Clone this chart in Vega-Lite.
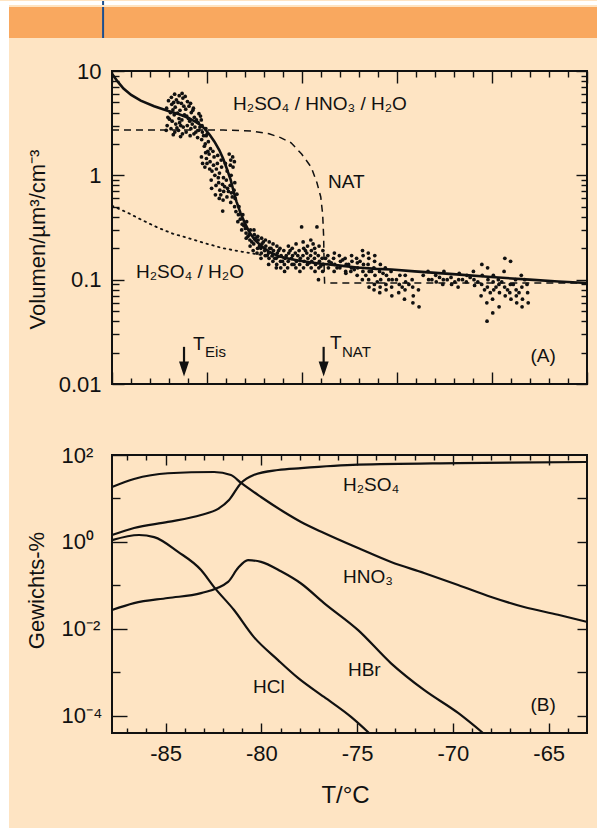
{
  "$schema": "https://vega.github.io/schema/vega-lite/v6.json",
  "background": "#FEE4C3",
  "padding": 0,
  "spacing": 0,
  "config": {
    "font": "Liberation Sans",
    "view": {"stroke": null},
    "axis": {"grid": false, "domain": false, "tickColor": "#111", "tickWidth": 1.4, "labelFont": "Liberation Sans", "titleFont": "Liberation Sans", "labelColor": "#111", "titleColor": "#111", "labelFontSize": 22, "titleFontSize": 22, "titleFontWeight": "normal", "labelFlush": false, "labelOverlap": false}
  },
  "datasets": {
    "hdr": [{"p": 0.16}],
    "solid": [
      {"T": -87.8, "v": 9.4}, {"T": -87.5, "v": 7.9}, {"T": -87.2, "v": 6.8}, {"T": -86.8, "v": 5.9}, {"T": -86.3, "v": 5.2}, {"T": -85.6, "v": 4.6}, {"T": -84.9, "v": 4.15}, {"T": -84.3, "v": 3.85}, {"T": -83.8, "v": 3.55}, {"T": -83.3, "v": 3.15}, {"T": -83.0, "v": 2.85}, {"T": -82.7, "v": 2.45}, {"T": -82.45, "v": 2.1}, {"T": -82.2, "v": 1.75}, {"T": -82.0, "v": 1.45}, {"T": -81.8, "v": 1.15}, {"T": -81.6, "v": 0.9}, {"T": -81.45, "v": 0.7}, {"T": -81.3, "v": 0.56}, {"T": -81.1, "v": 0.44}, {"T": -80.9, "v": 0.36}, {"T": -80.65, "v": 0.29}, {"T": -80.35, "v": 0.24}, {"T": -80.0, "v": 0.21}, {"T": -79.6, "v": 0.185}, {"T": -79.1, "v": 0.168}, {"T": -78.5, "v": 0.158}, {"T": -78.0, "v": 0.152}, {"T": -77.0, "v": 0.143}, {"T": -76.0, "v": 0.137}, {"T": -75.0, "v": 0.131}, {"T": -74.0, "v": 0.127}, {"T": -73.2, "v": 0.125}, {"T": -72.0, "v": 0.12}, {"T": -70.0, "v": 0.113}, {"T": -68.0, "v": 0.106}, {"T": -66.0, "v": 0.1}, {"T": -64.5, "v": 0.096}, {"T": -63.0, "v": 0.093}
    ],
    "nat": [
      {"T": -87.8, "v": 2.72}, {"T": -82.0, "v": 2.72}, {"T": -80.5, "v": 2.66}, {"T": -79.6, "v": 2.5}, {"T": -79.0, "v": 2.3}, {"T": -78.45, "v": 2.05}, {"T": -77.9, "v": 1.6}, {"T": -77.4, "v": 1.2}, {"T": -77.1, "v": 0.85}, {"T": -76.9, "v": 0.62}, {"T": -76.8, "v": 0.42}, {"T": -76.75, "v": 0.26}, {"T": -76.72, "v": 0.12}, {"T": -76.7, "v": 0.093}, {"T": -63.0, "v": 0.093}
    ],
    "dot": [
      {"T": -87.8, "v": 0.51}, {"T": -87.0, "v": 0.44}, {"T": -86.2, "v": 0.37}, {"T": -85.4, "v": 0.315}, {"T": -84.6, "v": 0.275}, {"T": -83.8, "v": 0.25}, {"T": -83.0, "v": 0.225}, {"T": -82.0, "v": 0.2}, {"T": -81.0, "v": 0.185}, {"T": -80.0, "v": 0.172}, {"T": -79.0, "v": 0.163}, {"T": -78.3, "v": 0.157}
    ],
    "pts": [
      {"T": -84.92, "v": 3.0}, {"T": -84.88, "v": 3.6}, {"T": -84.95, "v": 4.4}, {"T": -84.85, "v": 5.2},
      {"T": -84.72, "v": 2.8}, {"T": -84.66, "v": 3.3}, {"T": -84.75, "v": 4.0}, {"T": -84.68, "v": 4.8}, {"T": -84.7, "v": 5.6},
      {"T": -84.52, "v": 2.6}, {"T": -84.47, "v": 3.1}, {"T": -84.55, "v": 3.8}, {"T": -84.5, "v": 4.5}, {"T": -84.44, "v": 5.3}, {"T": -84.53, "v": 6.0},
      {"T": -84.33, "v": 2.7}, {"T": -84.27, "v": 3.2}, {"T": -84.3, "v": 3.5}, {"T": -84.25, "v": 4.2}, {"T": -84.35, "v": 5.0}, {"T": -84.29, "v": 5.8},
      {"T": -84.12, "v": 2.5}, {"T": -84.08, "v": 2.9}, {"T": -84.15, "v": 3.4}, {"T": -84.05, "v": 4.6}, {"T": -84.1, "v": 5.5}, {"T": -84.14, "v": 6.1},
      {"T": -83.93, "v": 2.6}, {"T": -83.87, "v": 3.0}, {"T": -83.9, "v": 3.7}, {"T": -83.95, "v": 4.3}, {"T": -83.86, "v": 5.1},
      {"T": -83.72, "v": 2.4}, {"T": -83.68, "v": 2.8}, {"T": -83.74, "v": 3.3}, {"T": -83.66, "v": 4.0}, {"T": -83.7, "v": 4.9},
      {"T": -83.52, "v": 2.5}, {"T": -83.47, "v": 2.9}, {"T": -83.5, "v": 3.6}, {"T": -83.55, "v": 4.4},
      {"T": -83.33, "v": 2.3}, {"T": -83.28, "v": 2.7}, {"T": -83.3, "v": 3.2}, {"T": -83.26, "v": 3.9},
      {"T": -83.12, "v": 2.2}, {"T": -83.08, "v": 2.6}, {"T": -83.1, "v": 3.0}, {"T": -83.14, "v": 3.4}, {"T": -83.07, "v": 1.3}, {"T": -83.13, "v": 1.5},
      {"T": -82.93, "v": 2.0}, {"T": -82.88, "v": 2.4}, {"T": -82.9, "v": 2.8}, {"T": -82.95, "v": 1.2}, {"T": -82.87, "v": 1.45}, {"T": -82.91, "v": 1.65},
      {"T": -82.8, "v": 1.7}, {"T": -82.77, "v": 2.1}, {"T": -82.83, "v": 2.5},
      {"T": -82.7, "v": 1.15}, {"T": -82.68, "v": 1.35}, {"T": -82.73, "v": 1.6}, {"T": -82.66, "v": 1.8},
      {"T": -82.6, "v": 0.75}, {"T": -82.62, "v": 0.9},
      {"T": -82.5, "v": 1.25}, {"T": -82.47, "v": 1.5}, {"T": -82.53, "v": 1.7},
      {"T": -82.4, "v": 0.65}, {"T": -82.37, "v": 0.8}, {"T": -82.43, "v": 1.0},
      {"T": -82.3, "v": 1.3}, {"T": -82.28, "v": 1.55},
      {"T": -82.2, "v": 0.6}, {"T": -82.17, "v": 0.72}, {"T": -82.23, "v": 0.85}, {"T": -82.19, "v": 1.05},
      {"T": -82.1, "v": 1.4}, {"T": -82.08, "v": 1.2},
      {"T": -82.0, "v": 0.58}, {"T": -81.97, "v": 0.7}, {"T": -82.03, "v": 0.82}, {"T": -81.98, "v": 0.95}, {"T": -82.02, "v": 0.455},
      {"T": -81.8, "v": 0.62}, {"T": -81.77, "v": 0.75}, {"T": -81.83, "v": 0.9}, {"T": -81.79, "v": 1.1},
      {"T": -81.6, "v": 0.55}, {"T": -81.57, "v": 0.68}, {"T": -81.63, "v": 0.8}, {"T": -81.58, "v": 1.0}, {"T": -81.62, "v": 1.25}, {"T": -81.6, "v": 1.4},
      {"T": -81.5, "v": 1.5}, {"T": -81.48, "v": 1.2},
      {"T": -81.4, "v": 0.5}, {"T": -81.37, "v": 0.6}, {"T": -81.43, "v": 0.72}, {"T": -81.39, "v": 0.85}, {"T": -81.41, "v": 1.35},
      {"T": -81.2, "v": 0.42}, {"T": -81.17, "v": 0.5}, {"T": -81.23, "v": 0.36},
      {"T": -81.0, "v": 0.34}, {"T": -80.97, "v": 0.42}, {"T": -81.03, "v": 0.3},
      {"T": -80.8, "v": 0.28}, {"T": -80.77, "v": 0.36}, {"T": -80.83, "v": 0.31}, {"T": -80.79, "v": 0.25},
      {"T": -80.6, "v": 0.24}, {"T": -80.57, "v": 0.3}, {"T": -80.63, "v": 0.27}, {"T": -80.59, "v": 0.21},
      {"T": -80.4, "v": 0.22}, {"T": -80.37, "v": 0.27}, {"T": -80.43, "v": 0.19}, {"T": -80.39, "v": 0.3},
      {"T": -80.2, "v": 0.2}, {"T": -80.17, "v": 0.24}, {"T": -80.23, "v": 0.18}, {"T": -80.19, "v": 0.26},
      {"T": -80.0, "v": 0.18}, {"T": -79.97, "v": 0.22}, {"T": -80.03, "v": 0.2}, {"T": -79.99, "v": 0.25}, {"T": -80.02, "v": 0.16},
      {"T": -79.8, "v": 0.17}, {"T": -79.77, "v": 0.21}, {"T": -79.83, "v": 0.19}, {"T": -79.79, "v": 0.24},
      {"T": -79.6, "v": 0.16}, {"T": -79.57, "v": 0.2}, {"T": -79.63, "v": 0.18}, {"T": -79.59, "v": 0.23}, {"T": -79.62, "v": 0.14},
      {"T": -79.4, "v": 0.15}, {"T": -79.37, "v": 0.19}, {"T": -79.43, "v": 0.17}, {"T": -79.39, "v": 0.22},
      {"T": -79.2, "v": 0.14}, {"T": -79.17, "v": 0.18}, {"T": -79.23, "v": 0.16}, {"T": -79.19, "v": 0.21}, {"T": -79.22, "v": 0.13},
      {"T": -79.0, "v": 0.15}, {"T": -78.97, "v": 0.17}, {"T": -79.03, "v": 0.2}, {"T": -78.99, "v": 0.13},
      {"T": -78.8, "v": 0.14}, {"T": -78.77, "v": 0.16}, {"T": -78.83, "v": 0.19}, {"T": -78.79, "v": 0.12},
      {"T": -78.6, "v": 0.15}, {"T": -78.57, "v": 0.18}, {"T": -78.63, "v": 0.13}, {"T": -78.59, "v": 0.21},
      {"T": -78.4, "v": 0.14}, {"T": -78.37, "v": 0.17}, {"T": -78.43, "v": 0.16}, {"T": -78.39, "v": 0.2},
      {"T": -78.2, "v": 0.13}, {"T": -78.17, "v": 0.15}, {"T": -78.23, "v": 0.18}, {"T": -78.19, "v": 0.22},
      {"T": -78.0, "v": 0.14}, {"T": -77.97, "v": 0.16}, {"T": -78.03, "v": 0.19}, {"T": -77.99, "v": 0.12},
      {"T": -77.9, "v": 0.32},
      {"T": -77.8, "v": 0.13}, {"T": -77.77, "v": 0.15}, {"T": -77.83, "v": 0.17}, {"T": -77.79, "v": 0.2}, {"T": -77.82, "v": 0.23},
      {"T": -77.6, "v": 0.14}, {"T": -77.57, "v": 0.16}, {"T": -77.63, "v": 0.18}, {"T": -77.59, "v": 0.21},
      {"T": -77.4, "v": 0.13}, {"T": -77.37, "v": 0.15}, {"T": -77.43, "v": 0.17}, {"T": -77.39, "v": 0.19}, {"T": -77.42, "v": 0.24},
      {"T": -77.2, "v": 0.12}, {"T": -77.17, "v": 0.14}, {"T": -77.23, "v": 0.16}, {"T": -77.19, "v": 0.18}, {"T": -77.22, "v": 0.2},
      {"T": -77.1, "v": 0.32},
      {"T": -77.0, "v": 0.13}, {"T": -76.97, "v": 0.15}, {"T": -77.03, "v": 0.17}, {"T": -76.99, "v": 0.21}, {"T": -77.02, "v": 0.1},
      {"T": -76.8, "v": 0.12}, {"T": -76.77, "v": 0.14}, {"T": -76.83, "v": 0.16}, {"T": -76.79, "v": 0.19},
      {"T": -76.5, "v": 0.13}, {"T": -76.47, "v": 0.15}, {"T": -76.53, "v": 0.17},
      {"T": -76.2, "v": 0.12}, {"T": -76.17, "v": 0.14}, {"T": -76.23, "v": 0.16}, {"T": -76.19, "v": 0.18},
      {"T": -75.9, "v": 0.13}, {"T": -75.87, "v": 0.15}, {"T": -75.93, "v": 0.17},
      {"T": -75.6, "v": 0.12}, {"T": -75.57, "v": 0.14}, {"T": -75.63, "v": 0.16}, {"T": -75.59, "v": 0.115},
      {"T": -75.3, "v": 0.13}, {"T": -75.27, "v": 0.15}, {"T": -75.33, "v": 0.12}, {"T": -75.29, "v": 0.17},
      {"T": -75.0, "v": 0.11}, {"T": -74.97, "v": 0.13}, {"T": -75.03, "v": 0.16}, {"T": -74.99, "v": 0.145},
      {"T": -74.7, "v": 0.12}, {"T": -74.67, "v": 0.14}, {"T": -74.73, "v": 0.1}, {"T": -74.69, "v": 0.17}, {"T": -74.72, "v": 0.19},
      {"T": -74.4, "v": 0.1}, {"T": -74.37, "v": 0.12}, {"T": -74.43, "v": 0.14}, {"T": -74.39, "v": 0.16}, {"T": -74.42, "v": 0.18}, {"T": -74.38, "v": 0.085},
      {"T": -74.1, "v": 0.09}, {"T": -74.07, "v": 0.11}, {"T": -74.13, "v": 0.13}, {"T": -74.09, "v": 0.15}, {"T": -74.12, "v": 0.08}, {"T": -74.08, "v": 0.17},
      {"T": -73.8, "v": 0.085}, {"T": -73.77, "v": 0.1}, {"T": -73.83, "v": 0.12}, {"T": -73.79, "v": 0.14}, {"T": -73.82, "v": 0.075},
      {"T": -73.5, "v": 0.09}, {"T": -73.47, "v": 0.11}, {"T": -73.53, "v": 0.13}, {"T": -73.49, "v": 0.08},
      {"T": -73.2, "v": 0.085}, {"T": -73.17, "v": 0.1}, {"T": -73.23, "v": 0.12}, {"T": -73.19, "v": 0.07},
      {"T": -72.8, "v": 0.09}, {"T": -72.77, "v": 0.11}, {"T": -72.83, "v": 0.075},
      {"T": -72.5, "v": 0.08}, {"T": -72.47, "v": 0.095}, {"T": -72.53, "v": 0.065}, {"T": -72.49, "v": 0.11},
      {"T": -72.1, "v": 0.085}, {"T": -72.07, "v": 0.07}, {"T": -72.13, "v": 0.1}, {"T": -72.09, "v": 0.06},
      {"T": -71.8, "v": 0.08}, {"T": -71.77, "v": 0.055},
      {"T": -71.3, "v": 0.12}, {"T": -71.27, "v": 0.1},
      {"T": -70.9, "v": 0.11}, {"T": -70.87, "v": 0.095},
      {"T": -70.5, "v": 0.1}, {"T": -70.47, "v": 0.12}, {"T": -70.53, "v": 0.09},
      {"T": -70.1, "v": 0.105}, {"T": -70.07, "v": 0.09},
      {"T": -69.7, "v": 0.1}, {"T": -69.67, "v": 0.115}, {"T": -69.73, "v": 0.085},
      {"T": -69.3, "v": 0.095}, {"T": -69.27, "v": 0.11},
      {"T": -68.9, "v": 0.1}, {"T": -68.87, "v": 0.088}, {"T": -68.93, "v": 0.12},
      {"T": -68.5, "v": 0.09}, {"T": -68.47, "v": 0.11}, {"T": -68.53, "v": 0.07}, {"T": -68.49, "v": 0.14},
      {"T": -68.2, "v": 0.085}, {"T": -68.17, "v": 0.1}, {"T": -68.23, "v": 0.06}, {"T": -68.19, "v": 0.13}, {"T": -68.22, "v": 0.04},
      {"T": -67.9, "v": 0.095}, {"T": -67.87, "v": 0.08}, {"T": -67.93, "v": 0.065}, {"T": -67.89, "v": 0.11}, {"T": -67.92, "v": 0.048},
      {"T": -67.6, "v": 0.09}, {"T": -67.57, "v": 0.075}, {"T": -67.63, "v": 0.1}, {"T": -67.59, "v": 0.055},
      {"T": -67.3, "v": 0.085}, {"T": -67.27, "v": 0.07}, {"T": -67.33, "v": 0.12}, {"T": -67.29, "v": 0.16},
      {"T": -67.0, "v": 0.09}, {"T": -66.97, "v": 0.065}, {"T": -67.03, "v": 0.075}, {"T": -66.99, "v": 0.15},
      {"T": -66.7, "v": 0.08}, {"T": -66.67, "v": 0.06}, {"T": -66.73, "v": 0.1}, {"T": -66.69, "v": 0.07},
      {"T": -66.4, "v": 0.085}, {"T": -66.37, "v": 0.065}, {"T": -66.43, "v": 0.11}, {"T": -66.39, "v": 0.055},
      {"T": -66.1, "v": 0.075}, {"T": -66.07, "v": 0.06}, {"T": -66.13, "v": 0.09},
      {"T": -84.8, "v": 3.45}, {"T": -84.62, "v": 4.25}, {"T": -84.58, "v": 5.0}, {"T": -84.41, "v": 2.85}, {"T": -84.38, "v": 3.95}, {"T": -84.21, "v": 3.0}, {"T": -84.18, "v": 4.9}, {"T": -84.02, "v": 3.8}, {"T": -83.98, "v": 5.7}, {"T": -83.81, "v": 3.5}, {"T": -83.78, "v": 4.6}, {"T": -83.61, "v": 3.1}, {"T": -83.58, "v": 4.2}, {"T": -83.42, "v": 2.6}, {"T": -83.39, "v": 3.4}, {"T": -83.21, "v": 2.9}, {"T": -83.18, "v": 3.7}, {"T": -83.02, "v": 2.4}, {"T": -82.98, "v": 1.9}, {"T": -84.97, "v": 2.7}, {"T": -84.6, "v": 2.45}, {"T": -84.22, "v": 2.35},
      {"T": -82.84, "v": 1.3}, {"T": -82.58, "v": 1.1}, {"T": -82.35, "v": 1.15}, {"T": -82.25, "v": 0.95}, {"T": -82.12, "v": 0.65}, {"T": -81.92, "v": 0.78}, {"T": -81.88, "v": 1.3}, {"T": -81.72, "v": 0.7}, {"T": -81.68, "v": 1.6}, {"T": -81.52, "v": 0.62}, {"T": -81.33, "v": 0.45}, {"T": -81.28, "v": 0.66}, {"T": -81.1, "v": 0.38}, {"T": -80.92, "v": 0.33}, {"T": -80.7, "v": 0.26}, {"T": -80.5, "v": 0.23}, {"T": -80.3, "v": 0.25}, {"T": -80.1, "v": 0.21}, {"T": -79.9, "v": 0.23}, {"T": -79.7, "v": 0.17}, {"T": -79.5, "v": 0.2}, {"T": -79.3, "v": 0.16}, {"T": -79.1, "v": 0.19}, {"T": -78.9, "v": 0.15}, {"T": -78.7, "v": 0.17}, {"T": -78.5, "v": 0.19}, {"T": -78.3, "v": 0.14}, {"T": -78.1, "v": 0.17}, {"T": -77.7, "v": 0.19}, {"T": -77.5, "v": 0.145}, {"T": -77.3, "v": 0.22}, {"T": -76.9, "v": 0.135}, {"T": -76.65, "v": 0.16}, {"T": -76.35, "v": 0.145}, {"T": -76.05, "v": 0.13}, {"T": -75.75, "v": 0.155}, {"T": -75.45, "v": 0.14}, {"T": -75.15, "v": 0.125}, {"T": -74.85, "v": 0.15}, {"T": -74.55, "v": 0.11}, {"T": -74.25, "v": 0.12}, {"T": -73.95, "v": 0.095}, {"T": -73.65, "v": 0.115}, {"T": -73.35, "v": 0.1}, {"T": -72.95, "v": 0.1}, {"T": -72.65, "v": 0.085}, {"T": -72.3, "v": 0.09}, {"T": -71.55, "v": 0.11}, {"T": -71.1, "v": 0.1}, {"T": -70.7, "v": 0.105}, {"T": -70.3, "v": 0.1}, {"T": -69.9, "v": 0.095}, {"T": -69.5, "v": 0.1}, {"T": -69.1, "v": 0.105}, {"T": -68.7, "v": 0.095}, {"T": -68.35, "v": 0.08}, {"T": -68.05, "v": 0.075}, {"T": -67.75, "v": 0.085}, {"T": -67.45, "v": 0.095}, {"T": -67.15, "v": 0.08}, {"T": -66.85, "v": 0.09}, {"T": -66.55, "v": 0.075}, {"T": -66.25, "v": 0.1}
    ],
    "txtA": [
      {"T": -81.48, "v": 4.83, "t": "H₂SO₄ / HNO₃ / H₂O"},
      {"T": -76.52, "v": 0.863, "t": "NAT"},
      {"T": -86.55, "v": 0.1185, "t": "H₂SO₄ / H₂O"},
      {"T": -65.95, "v": 0.0185, "t": "(A)"},
      {"T": -83.57, "v": 0.0242, "t": "T"},
      {"T": -76.42, "v": 0.0248, "t": "T"}
    ],
    "subA": [
      {"T": -82.94, "v": 0.0203, "t": "Eis"},
      {"T": -75.79, "v": 0.0203, "t": "NAT"}
    ],
    "arrows": [
      {"T": -84.04, "top": 0.0227, "bot": 0.0159, "head": 0.0139},
      {"T": -76.75, "top": 0.0227, "bot": 0.0159, "head": 0.0139}
    ],
    "h2so4": [
      {"T": -87.8, "w": 1.44}, {"T": -86.65, "w": 2.09}, {"T": -84.88, "w": 2.88}, {"T": -83.15, "w": 4.17}, {"T": -82.26, "w": 5.75}, {"T": -81.69, "w": 9.2}, {"T": -81.06, "w": 22.7}, {"T": -80.4, "w": 34.7}, {"T": -79.13, "w": 45.2}, {"T": -77.93, "w": 50}, {"T": -74.95, "w": 60}, {"T": -69.73, "w": 65}, {"T": -63.0, "w": 69}
    ],
    "hno3": [
      {"T": -87.8, "w": 18.3}, {"T": -86.65, "w": 28.0}, {"T": -84.88, "w": 38.0}, {"T": -82.47, "w": 40.6}, {"T": -81.59, "w": 34.7}, {"T": -81.06, "w": 22.7}, {"T": -80.02, "w": 10.8}, {"T": -78.82, "w": 4.87}, {"T": -77.93, "w": 2.87}, {"T": -76.73, "w": 1.6}, {"T": -74.95, "w": 0.72}, {"T": -73.23, "w": 0.344}, {"T": -71.51, "w": 0.192}, {"T": -69.73, "w": 0.102}, {"T": -68.0, "w": 0.054}, {"T": -66.29, "w": 0.0316}, {"T": -64.51, "w": 0.021}, {"T": -63.0, "w": 0.0144}
    ],
    "hcl": [
      {"T": -87.8, "w": 1.1}, {"T": -86.39, "w": 1.44}, {"T": -85.6, "w": 1.29}, {"T": -84.35, "w": 0.59}, {"T": -83.15, "w": 0.225}, {"T": -82.47, "w": 0.091}, {"T": -81.43, "w": 0.027}, {"T": -80.4, "w": 0.0065}, {"T": -79.13, "w": 0.0019}, {"T": -78.09, "w": 0.00074}, {"T": -76.73, "w": 0.000269}, {"T": -75.32, "w": 0.0000933}, {"T": -74.38, "w": 0.0000398}
    ],
    "hbr": [
      {"T": -87.8, "w": 0.027}, {"T": -86.65, "w": 0.039}, {"T": -84.88, "w": 0.051}, {"T": -83.15, "w": 0.066}, {"T": -81.74, "w": 0.12}, {"T": -81.22, "w": 0.25}, {"T": -80.7, "w": 0.38}, {"T": -80.02, "w": 0.347}, {"T": -78.98, "w": 0.21}, {"T": -77.93, "w": 0.11}, {"T": -76.73, "w": 0.039}, {"T": -74.95, "w": 0.0093}, {"T": -73.23, "w": 0.0016}, {"T": -71.51, "w": 0.00039}, {"T": -69.73, "w": 0.000115}, {"T": -68.43, "w": 0.0000398}
    ],
    "txtB": [
      {"T": -75.74, "w": 20.4, "t": "H₂SO₄"},
      {"T": -75.74, "w": 0.1556, "t": "HNO₃"},
      {"T": -75.48, "w": 0.001125, "t": "HBr"},
      {"T": -80.44, "w": 0.000457, "t": "HCl"},
      {"T": -65.95, "w": 0.000176, "t": "(B)"}
    ]
  },
  "hconcat": [
    {
      "width": 9, "height": 828,
      "data": {"name": "hdr"},
      "mark": {"type": "rule", "opacity": 0},
      "encoding": {"x": {"field": "p", "type": "quantitative", "axis": null}},
      "view": {"fill": "#FFFFFF", "stroke": null}
    },
    {
      "spacing": 20,
      "vconcat": [
        {
          "spacing": 0,
          "vconcat": [
            {
              "width": 588, "height": 4,
              "data": {"name": "hdr"},
              "mark": {"type": "rule", "color": "#1D4F8E", "strokeWidth": 2},
              "encoding": {"x": {"field": "p", "type": "quantitative", "scale": {"domain": [0, 1]}, "axis": null}},
              "view": {"fill": "#FFFFFF", "stroke": null}
            },
            {
              "width": 588, "height": 31,
              "data": {"name": "hdr"},
              "mark": {"type": "rule", "color": "#1D4F8E", "strokeWidth": 2},
              "encoding": {"x": {"field": "p", "type": "quantitative", "scale": {"domain": [0, 1]}, "axis": null}},
              "view": {"fill": "#F9A85F", "stroke": null}
            }
          ]
        },
        {
          "spacing": 0,
          "hconcat": [
            {
              "width": 1, "height": 1,
              "data": {"name": "hdr"},
              "mark": {"type": "rule", "opacity": 0},
              "encoding": {"x": {"field": "p", "type": "quantitative", "axis": null}}
            },
            {
              "spacing": 47,
              "vconcat": [
                {
                  "width": 475, "height": 313,
                  "view": {"stroke": "#111", "strokeWidth": 2},
                  "resolve": {"axis": {"x": "independent", "y": "independent"}},
                  "layer": [
                    {
                      "data": {"name": "solid"},
                      "mark": {"type": "line", "color": "#111", "strokeWidth": 2.6},
                      "encoding": {
                        "x": {"field": "T", "type": "quantitative", "scale": {"domain": [-87.8, -63], "nice": false, "zero": false},
                          "axis": {"orient": "bottom", "values": [-87.8, -82.84, -77.88, -72.92, -67.96, -63.0], "tickSize": -12, "labels": false, "title": null}},
                        "y": {"field": "v", "type": "quantitative", "scale": {"type": "log", "domain": [0.01, 10], "nice": false},
                          "axis": {"orient": "left", "values": [0.01, 0.1, 1, 10], "format": "~g", "tickSize": -12, "labelPadding": 23, "title": "Volumen/µm³/cm⁻³", "titleX": -75, "titleY": 168, "titleAngle": -90, "titleAlign": "center", "titleBaseline": "middle"}}
                      }
                    },
                    {
                      "data": {"name": "nat"},
                      "mark": {"type": "line", "color": "#111", "strokeWidth": 1.5, "strokeDash": [7, 5]},
                      "encoding": {
                        "x": {"field": "T", "type": "quantitative", "scale": {"domain": [-87.8, -63], "nice": false, "zero": false},
                          "axis": {"orient": "bottom", "values": [-86.808, -85.816, -84.824, -83.832, -81.848, -80.856, -79.864, -78.872, -76.888, -75.896, -74.904, -73.912, -71.928, -70.936, -69.944, -68.952, -66.968, -65.976, -64.984, -63.992], "tickSize": -6, "labels": false, "title": null}},
                        "y": {"field": "v", "type": "quantitative", "scale": {"type": "log", "domain": [0.01, 10], "nice": false},
                          "axis": {"orient": "left", "values": [0.02, 0.03, 0.04, 0.05, 0.06, 0.07, 0.08, 0.09, 0.2, 0.3, 0.4, 0.5, 0.6, 0.7, 0.8, 0.9, 2, 3, 4, 5, 6, 7, 8, 9], "tickSize": -7, "labels": false, "title": null}}
                      }
                    },
                    {
                      "data": {"name": "dot"},
                      "mark": {"type": "line", "color": "#111", "strokeWidth": 1.8, "strokeDash": [1.5, 4.5], "strokeCap": "round"},
                      "encoding": {
                        "x": {"field": "T", "type": "quantitative", "scale": {"domain": [-87.8, -63], "nice": false, "zero": false},
                          "axis": {"orient": "top", "values": [-87.8, -82.84, -77.88, -72.92, -67.96, -63.0], "tickSize": -12, "labels": false, "title": null}},
                        "y": {"field": "v", "type": "quantitative", "scale": {"type": "log", "domain": [0.01, 10], "nice": false},
                          "axis": {"orient": "right", "values": [0.01, 0.1, 1, 10], "tickSize": -11, "labels": false, "title": null}}
                      }
                    },
                    {
                      "data": {"name": "pts"},
                      "mark": {"type": "circle", "color": "#111", "size": 14, "opacity": 1},
                      "encoding": {
                        "x": {"field": "T", "type": "quantitative", "scale": {"domain": [-87.8, -63], "nice": false, "zero": false},
                          "axis": {"orient": "top", "values": [-86.808, -85.816, -84.824, -83.832, -81.848, -80.856, -79.864, -78.872, -76.888, -75.896, -74.904, -73.912, -71.928, -70.936, -69.944, -68.952, -66.968, -65.976, -64.984, -63.992], "tickSize": -6, "labels": false, "title": null}},
                        "y": {"field": "v", "type": "quantitative", "scale": {"type": "log", "domain": [0.01, 10], "nice": false},
                          "axis": {"orient": "right", "values": [0.02, 0.03, 0.04, 0.05, 0.06, 0.07, 0.08, 0.09, 0.2, 0.3, 0.4, 0.5, 0.6, 0.7, 0.8, 0.9, 2, 3, 4, 5, 6, 7, 8, 9], "tickSize": -6, "labels": false, "title": null}}
                      }
                    },
                    {
                      "data": {"name": "txtA"},
                      "mark": {"type": "text", "align": "left", "baseline": "middle", "fontSize": 19, "color": "#111", "font": "Liberation Sans"},
                      "encoding": {
                        "x": {"field": "T", "type": "quantitative", "scale": {"domain": [-87.8, -63], "nice": false, "zero": false}, "axis": null},
                        "y": {"field": "v", "type": "quantitative", "scale": {"type": "log", "domain": [0.01, 10], "nice": false},
                          "axis": {"orient": "left", "ticks": false, "labels": false, "title": ".", "titleOpacity": 0, "titleFontSize": 2, "titleX": -101, "titleY": 150, "titleAngle": 0, "titleAlign": "left", "titleBaseline": "middle"}},
                        "text": {"field": "t"}
                      }
                    },
                    {
                      "data": {"name": "subA"},
                      "mark": {"type": "text", "align": "left", "baseline": "middle", "fontSize": 15, "color": "#111", "font": "Liberation Sans"},
                      "encoding": {
                        "x": {"field": "T", "type": "quantitative", "axis": null},
                        "y": {"field": "v", "type": "quantitative", "axis": null},
                        "text": {"field": "t"}
                      }
                    },
                    {
                      "data": {"name": "arrows"},
                      "mark": {"type": "rule", "color": "#111", "strokeWidth": 2.2},
                      "encoding": {
                        "x": {"field": "T", "type": "quantitative", "axis": null},
                        "y": {"field": "top", "type": "quantitative", "axis": null},
                        "y2": {"field": "bot"}
                      }
                    },
                    {
                      "data": {"name": "arrows"},
                      "mark": {"type": "point", "shape": "M-1,-1.5L1,-1.5L0,1.5Z", "filled": true, "color": "#111", "size": 100, "opacity": 1},
                      "encoding": {
                        "x": {"field": "T", "type": "quantitative", "axis": null},
                        "y": {"field": "head", "type": "quantitative", "axis": null}
                      }
                    }
                  ]
                },
                {
                  "width": 475, "height": 278,
                  "view": {"stroke": "#111", "strokeWidth": 2},
                  "resolve": {"axis": {"x": "independent", "y": "independent"}},
                  "layer": [
                    {
                      "data": {"name": "h2so4"},
                      "mark": {"type": "line", "color": "#111", "strokeWidth": 2.2, "interpolate": "monotone"},
                      "encoding": {
                        "x": {"field": "T", "type": "quantitative", "scale": {"domain": [-87.8, -63], "nice": false, "zero": false},
                          "axis": {"orient": "bottom", "values": [-85, -80, -75, -70, -65], "labelExpr": "replace(datum.label, '−', '-')", "tickSize": -10, "labelPadding": 20, "title": "T/°C", "titleFontSize": 24, "titleX": 233, "titleY": 62, "titleAlign": "center", "titleBaseline": "middle"}},
                        "y": {"field": "w", "type": "quantitative", "scale": {"type": "log", "domain": [0.0000398, 100], "nice": false},
                          "axis": {"orient": "left", "values": [100, 1, 0.01, 0.0001], "labelExpr": "datum.value >= 50 ? '10²' : datum.value >= 0.5 ? '10⁰' : datum.value >= 0.005 ? '10⁻²' : '10⁻⁴'", "tickSize": -15, "labelPadding": 66, "labelAlign": "left", "title": "Gewichts-%", "titleX": -76, "titleY": 135, "titleAngle": -90, "titleAlign": "center", "titleBaseline": "middle"}}
                      }
                    },
                    {
                      "data": {"name": "hno3"},
                      "mark": {"type": "line", "color": "#111", "strokeWidth": 2.2, "interpolate": "monotone"},
                      "encoding": {
                        "x": {"field": "T", "type": "quantitative", "scale": {"domain": [-87.8, -63], "nice": false, "zero": false},
                          "axis": {"orient": "bottom", "values": [-87, -86, -84, -83, -82, -81, -79, -78, -77, -76, -74, -73, -72, -71, -69, -68, -67, -66, -64], "tickSize": -5, "labels": false, "title": null}},
                        "y": {"field": "w", "type": "quantitative", "scale": {"type": "log", "domain": [0.0000398, 100], "nice": false},
                          "axis": {"orient": "left", "values": [10, 0.1, 0.001], "tickSize": -8, "labels": false, "title": null}}
                      }
                    },
                    {
                      "data": {"name": "hcl"},
                      "mark": {"type": "line", "color": "#111", "strokeWidth": 2.2, "interpolate": "monotone"},
                      "encoding": {
                        "x": {"field": "T", "type": "quantitative", "scale": {"domain": [-87.8, -63], "nice": false, "zero": false},
                          "axis": {"orient": "top", "values": [-85, -80, -75, -70, -65], "tickSize": -10, "labels": false, "title": null}},
                        "y": {"field": "w", "type": "quantitative", "scale": {"type": "log", "domain": [0.0000398, 100], "nice": false},
                          "axis": {"orient": "right", "values": [10, 1, 0.1, 0.01, 0.001, 0.0001], "tickSize": -10, "labels": false, "title": null}}
                      }
                    },
                    {
                      "data": {"name": "hbr"},
                      "mark": {"type": "line", "color": "#111", "strokeWidth": 2.2, "interpolate": "monotone"},
                      "encoding": {
                        "x": {"field": "T", "type": "quantitative", "scale": {"domain": [-87.8, -63], "nice": false, "zero": false},
                          "axis": {"orient": "top", "values": [-87, -86, -84, -83, -82, -81, -79, -78, -77, -76, -74, -73, -72, -71, -69, -68, -67, -66, -64], "tickSize": -5, "labels": false, "title": null}},
                        "y": {"field": "w", "type": "quantitative", "scale": {"type": "log", "domain": [0.0000398, 100], "nice": false}, "axis": null}
                      }
                    },
                    {
                      "data": {"name": "txtB"},
                      "mark": {"type": "text", "align": "left", "baseline": "middle", "fontSize": 19, "color": "#111", "font": "Liberation Sans"},
                      "encoding": {
                        "x": {"field": "T", "type": "quantitative", "axis": null},
                        "y": {"field": "w", "type": "quantitative", "axis": null},
                        "text": {"field": "t"}
                      }
                    }
                  ]
                }
              ]
            }
          ]
        }
      ]
    }
  ]
}
